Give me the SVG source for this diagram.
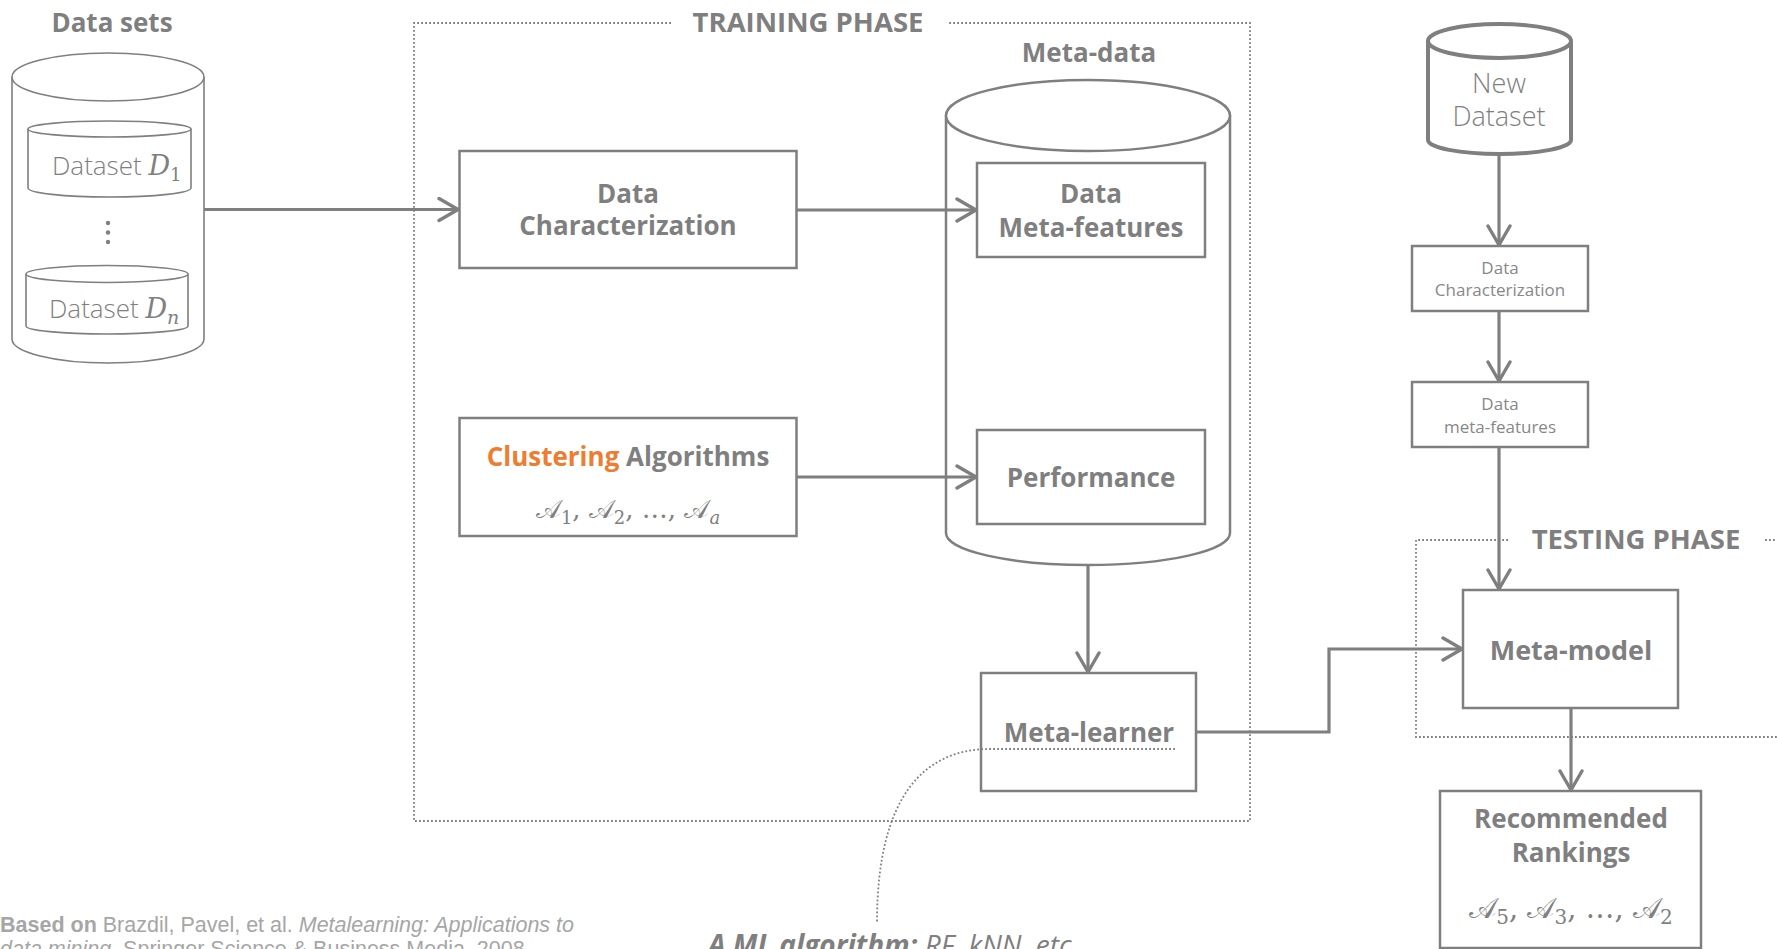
<svg xmlns="http://www.w3.org/2000/svg" width="1777" height="949" viewBox="0 0 1777 949">
  <defs>
    <style>
      .shape { fill: #ffffff; stroke: #7f7f7f; stroke-width: 2.5; }
      .thin { fill: #ffffff; stroke: #7f7f7f; stroke-width: 1.6; }
      .thick { fill: #ffffff; stroke: #7f7f7f; stroke-width: 4; }
      .edge { fill: none; stroke: #7f7f7f; stroke-width: 3.2; }
      .dots { fill: none; stroke: #7f7f7f; stroke-width: 1.8; stroke-dasharray: 1.8 2.2; }
      .bold { font-family: "Open Sans", "Noto Sans", sans-serif; font-weight: 700; fill: #7f7f7f; text-anchor: middle; }
      .light { font-family: "Open Sans", "Noto Sans", sans-serif; font-weight: 300; fill: #7f7f7f; }
      .small { font-family: "Open Sans", "Noto Sans", sans-serif; font-weight: 400; fill: #888888; text-anchor: middle; }
      .math { font-family: "DejaVu Serif", "Liberation Serif", serif; fill: #808080; }
      .it { font-style: italic; }
      .orange { fill: #ed7d31; }
      .note { font-family: "Liberation Sans", Arial, sans-serif; fill: #a6a6a6; font-size: 21.5px; }
    </style>
    <marker id="arrow" markerUnits="userSpaceOnUse" viewBox="0 0 24 26" markerWidth="24" markerHeight="26" refX="21" refY="13" orient="auto">
      <path d="M2,2 L21,13 L2,24" fill="none" stroke="#7f7f7f" stroke-width="3.4" stroke-linecap="round" stroke-linejoin="round"/>
    </marker>
  </defs>

  <!-- phase frames -->
  <g id="training-phase">
    <path class="dots" d="M671,23 H414 V821 H1250 V23 H947"/>
    <text class="bold" x="808" y="32" font-size="27.5">TRAINING PHASE</text>
  </g>
  <g id="testing-phase">
    <path class="dots" d="M1508,540 H1416 V737 H1777"/>
    <path class="dots" d="M1765,540 H1777"/>
    <text class="bold" x="1636" y="549" font-size="27.5">TESTING PHASE</text>
  </g>

  <!-- data sets store -->
  <g id="data-sets">
    <text class="bold" x="112" y="32" font-size="26">Data sets</text>
    <path class="thin" d="M12,77 V339 A96,24 0 0 0 204,339 V77"/>
    <ellipse class="thin" cx="108" cy="77" rx="96" ry="24"/>
    <path class="thin" d="M28,129 V188 A81.5,9 0 0 0 191,188 V129"/>
    <ellipse class="thin" cx="109.5" cy="129" rx="81.5" ry="8"/>
    <text class="light" x="52" y="175" font-size="26">Dataset <tspan class="math it" font-size="27">D</tspan><tspan class="math" font-size="18" dy="6">1</tspan></text>
    <circle cx="108" cy="223" r="2.2" fill="#7f7f7f"/>
    <circle cx="108" cy="232.5" r="2.2" fill="#7f7f7f"/>
    <circle cx="108" cy="242" r="2.2" fill="#7f7f7f"/>
    <path class="thin" d="M26,274 V326 A81,8 0 0 0 188,326 V274"/>
    <ellipse class="thin" cx="107" cy="274" rx="81" ry="8.5"/>
    <text class="light" x="49" y="318" font-size="26">Dataset <tspan class="math it" font-size="27">D</tspan><tspan class="math it" font-size="19" dy="6">n</tspan></text>
  </g>

  <!-- training phase nodes -->
  <g id="data-characterization">
    <rect class="shape" x="459.5" y="151" width="337" height="117"/>
    <text class="bold" x="628" y="203" font-size="26">Data</text>
    <text class="bold" x="628" y="235" font-size="26">Characterization</text>
  </g>
  <g id="clustering-algorithms">
    <rect class="shape" x="459.5" y="418" width="337" height="118"/>
    <text class="bold" x="628" y="466" font-size="26"><tspan class="orange">Clustering</tspan> Algorithms</text>
    <text class="math" x="628" y="518" font-size="26" text-anchor="middle">𝒜<tspan font-size="18" dy="6">1</tspan><tspan dy="-6">, 𝒜</tspan><tspan font-size="18" dy="6">2</tspan><tspan dy="-6">, …, 𝒜</tspan><tspan class="it" font-size="18" dy="6">a</tspan></text>
  </g>
  <g id="meta-data">
    <text class="bold" x="1089" y="62" font-size="26">Meta-data</text>
    <path class="shape" d="M946,115 V533 A142,32 0 0 0 1230,533 V115"/>
    <ellipse class="shape" cx="1088" cy="115.5" rx="142" ry="35.5"/>
  </g>
  <g id="data-meta-features">
    <rect class="shape" x="977" y="163" width="228" height="94"/>
    <text class="bold" x="1091" y="203" font-size="26">Data</text>
    <text class="bold" x="1091" y="237" font-size="26">Meta-features</text>
  </g>
  <g id="performance">
    <rect class="shape" x="977" y="430" width="228" height="94"/>
    <text class="bold" x="1091" y="487" font-size="26">Performance</text>
  </g>
  <g id="meta-learner">
    <rect class="shape" x="981" y="673" width="215" height="118"/>
    <text class="bold" x="1089" y="742" font-size="26">Meta-learner</text>
  </g>

  <!-- testing phase nodes -->
  <g id="new-dataset">
    <path class="thick" d="M1428,41 V140 A71.5,14 0 0 0 1571,140 V41"/>
    <ellipse class="thick" cx="1499.5" cy="41" rx="71.5" ry="17"/>
    <text class="light" x="1499" y="93" font-size="27" text-anchor="middle">New</text>
    <text class="light" x="1499" y="126" font-size="27" text-anchor="middle">Dataset</text>
  </g>
  <g id="test-data-characterization">
    <rect class="shape" x="1412" y="246" width="176" height="65"/>
    <text class="small" x="1500" y="274" font-size="17">Data</text>
    <text class="small" x="1500" y="296" font-size="17">Characterization</text>
  </g>
  <g id="test-meta-features">
    <rect class="shape" x="1412" y="382" width="176" height="65"/>
    <text class="small" x="1500" y="410" font-size="17">Data</text>
    <text class="small" x="1500" y="433" font-size="17">meta-features</text>
  </g>
  <g id="meta-model">
    <rect class="shape" x="1463" y="590" width="215" height="118"/>
    <text class="bold" x="1571" y="660" font-size="27">Meta-model</text>
  </g>
  <g id="recommended-rankings">
    <rect class="shape" x="1440" y="791" width="261" height="157"/>
    <text class="bold" x="1571" y="828" font-size="26">Recommended</text>
    <text class="bold" x="1571" y="862" font-size="26">Rankings</text>
    <text class="math" x="1571" y="918" font-size="29" text-anchor="middle">𝒜<tspan font-size="20" dy="6">5</tspan><tspan dy="-6">, 𝒜</tspan><tspan font-size="20" dy="6">3</tspan><tspan dy="-6">, …, 𝒜</tspan><tspan font-size="20" dy="6">2</tspan></text>
  </g>

  <!-- connectors -->
  <g id="connectors">
    <path class="edge" d="M204,209.5 H458" marker-end="url(#arrow)"/>
    <path class="edge" d="M797,210 H976" marker-end="url(#arrow)"/>
    <path class="edge" d="M797,477 H976" marker-end="url(#arrow)"/>
    <path class="edge" d="M1088,565 V672" marker-end="url(#arrow)"/>
    <path class="edge" d="M1196,732 H1329 V649 H1462" marker-end="url(#arrow)"/>
    <path class="edge" d="M1499,154 V245" marker-end="url(#arrow)"/>
    <path class="edge" d="M1499,311 V381" marker-end="url(#arrow)"/>
    <path class="edge" d="M1499,447 V589" marker-end="url(#arrow)"/>
    <path class="edge" d="M1571,708 V790" marker-end="url(#arrow)"/>
  </g>

  <!-- annotation for the meta-learner -->
  <g id="meta-learner-note">
    <path class="dots" d="M1175,749 H990 C925,749 877,795 877,923"/>
    <text font-family="Open Sans, Noto Sans, sans-serif" font-style="italic" font-size="28" fill="#7f7f7f" x="708" y="955"><tspan font-weight="700">A ML algorithm:</tspan> RF, kNN, etc.</text>
  </g>

  <!-- source reference -->
  <g id="source">
    <text class="note" x="0" y="932"><tspan font-weight="700">Based on</tspan> Brazdil, Pavel, et al. <tspan font-style="italic">Metalearning: Applications to</tspan></text>
    <text class="note" x="0" y="956"><tspan font-style="italic">data mining</tspan>. Springer Science &amp; Business Media, 2008.</text>
  </g>
</svg>
